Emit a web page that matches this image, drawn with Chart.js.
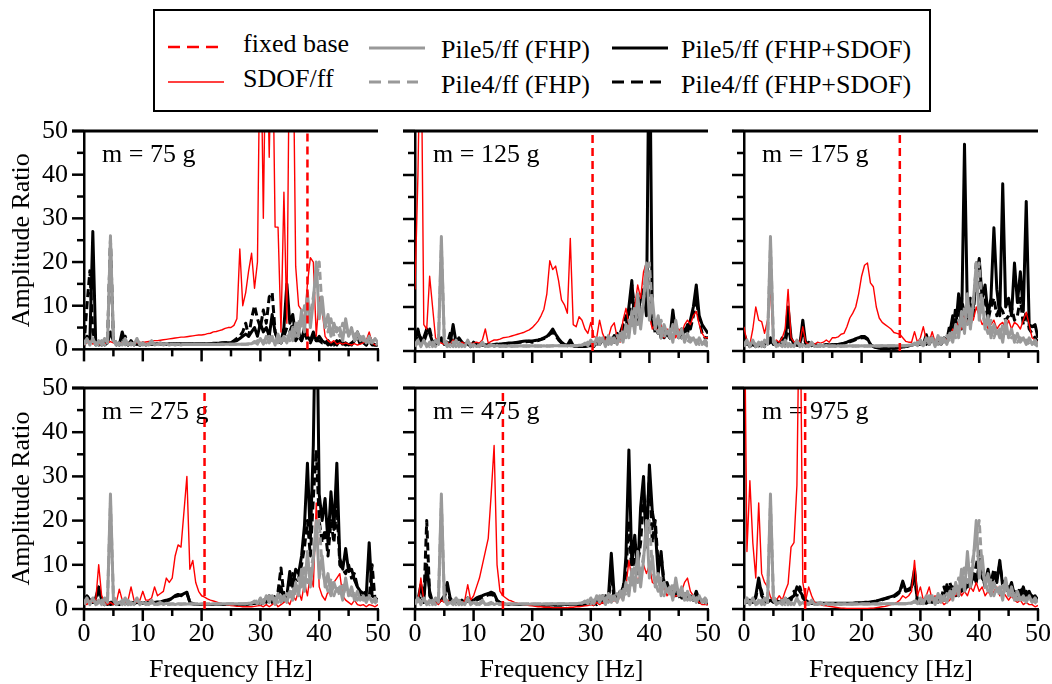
<!DOCTYPE html>
<html><head><meta charset="utf-8">
<script src="https://cdn.jsdelivr.net/npm/chart.js@4.4.1/dist/chart.umd.min.js"></script>
<style>
html,body{margin:0;padding:0;background:#fff;overflow:hidden;width:1052px;height:684px;position:relative;}
canvas{position:absolute;}
#legend{position:absolute;left:0;top:0;}
</style></head><body>
<svg id="legend" width="1052" height="118" font-family="Liberation Serif, Times New Roman, serif" font-size="26" fill="#000">
<rect x="154" y="10" width="776" height="101" fill="none" stroke="#000" stroke-width="2"/>
<line x1="168" y1="47" x2="218" y2="47" stroke="#f00" stroke-width="2.5" stroke-dasharray="12 7"/>
<text x="243" y="52">fixed base</text>
<line x1="168" y1="82" x2="224" y2="82" stroke="#f00" stroke-width="1.5"/>
<text x="243" y="87">SDOF/ff</text>
<line x1="369" y1="48" x2="425" y2="48" stroke="#999" stroke-width="3"/>
<text x="441" y="58">Pile5/ff (FHP)</text>
<line x1="369" y1="82" x2="418" y2="82" stroke="#999" stroke-width="3" stroke-dasharray="12 7"/>
<text x="441" y="93">Pile4/ff (FHP)</text>
<line x1="612" y1="48" x2="668" y2="48" stroke="#000" stroke-width="3"/>
<text x="681" y="58">Pile5/ff (FHP+SDOF)</text>
<line x1="612" y1="82" x2="661" y2="82" stroke="#000" stroke-width="3" stroke-dasharray="12 7"/>
<text x="681" y="93">Pile4/ff (FHP+SDOF)</text>
</svg>
<script>
// ---------- DATA ----------
const FREQ = [0,0.5,1,1.5,2,2.5,3,3.5,4,4.5,5,5.5,6,6.5,7,7.5,8,8.5,9,9.5,
10,10.5,11,11.5,12,12.5,13,13.5,14,14.5,15,15.5,16,16.5,17,17.5,18,18.5,19,19.5,
20,20.5,21,21.5,22,22.5,23,23.5,24,24.5,25,25.5,26,26.5,27,27.5,28,28.5,29,29.5,
30,30.5,31,31.5,32,32.5,33,33.5,34,34.5,35,35.5,36,36.5,37,37.5,38,38.5,39,39.5,
40,40.5,41,41.5,42,42.5,43,43.5,44,44.5,45,45.5,46,46.5,47,47.5,48,48.5,49,49.5,50];

const X_TICKS = [0,10,20,30,40,50];
const Y_TICKS = [0,10,20,30,40,50];
const MASS_LABELS = ['m = 75 g','m = 125 g','m = 175 g','m = 275 g','m = 475 g','m = 975 g'];
const FIXED_BASE = [38, 30.3, 26.5, 20.5, 15, 10.4];

// Pile/ff without SDOF (same in every panel)
const FHP_P5 = [1.5,2.5,1,2.5,1,2,1,2.5,1.5,26,
2,1,1.5,1,2.5,1,1.5,1,2.5,1,
1.5,1,1.2,2,1,1.2,1.5,1,1.3,1,
1.2,1,1.2,1,1.2,1.1,1.2,1.1,1.2,1.1,
1.2,1.1,1.2,1.1,1.2,1.1,1.2,1.2,1.2,1.2,
1.2,1.2,1.2,1.2,1.2,1.2,1.3,1.3,1.8,1.2,
2.5,1.2,3,1.5,3,1,3.5,1.5,3,1.5,
4,2,6,3,9,4,13,5,11,20,
7,12,5,8,3,6,4,5,2,7,
3,5,2,4,2,3,1.5,3,1.5,2.5,
1.5];
const FHP_P4 = [1,2,1.5,2,1.5,1,2,1,2,24,
3,1.5,1,2,1,2,1,1.5,2,1.5,
1,1.5,1,1.5,1.2,1,1.2,1.3,1,1.2,
1.1,1.2,1.1,1.2,1.1,1.2,1.1,1.2,1.1,1.2,
1.1,1.2,1.1,1.2,1.1,1.2,1.1,1.2,1.1,1.2,
1.2,1.2,1.2,1.2,1.2,1.2,1.2,1.4,1.5,2,
1.2,2,1.5,3,2,2.5,1.5,3,2,3.5,
2,5,3,7,5,10,6,8,12,16,
20,9,6,4,7,3,5,3,6,4,
4,3,3.5,2,3,2,2.5,1.5,2,1.5,
1];

// m = 75 g
const SDOF_75 = [1,1.5,2,1.2,1.5,1.2,1,1.3,1.5,1.8,
1.5,1.3,1.5,1.4,1.6,1.5,1.4,1.6,1.5,1.6,
1.6,1.7,1.8,1.9,2,2,2.1,2.2,2.3,2.4,
2.5,2.6,2.7,2.8,2.8,2.9,3,3.1,3.2,3.3,
3.3,3.4,3.6,3.7,4,4.1,4.3,4.5,4.8,5,
5,5.5,7,23,10,13,18,22,14,20,
80,30,80,44,80,28,28,4,36,6,
80,80,19,10,9,6,15,21,20,3,
12,9,3,2,1.5,2,1.2,1.5,1.2,1.5,
1.2,1,1.3,1,1.2,1.5,2,4,1.5,1,
1.2];
const P5_75 = [1,3,2,27,1,1.5,1,2,1.5,4,
2,1.5,1,4,1.5,1,2,1,1.5,1,
1.5,1,1.2,1.5,1.2,1.3,1.4,1.3,1.2,1.3,
1.3,1.3,1.3,1.3,1.3,1.3,1.3,1.3,1.3,1.3,
1.3,1.3,1.3,1.3,1.4,1.4,1.4,1.5,1.5,1.5,
1.5,1.8,2,2.5,3,3.5,3,4,5,3,
6,4,5,3,8,4,2,1.5,5,15,
6,8,3,4,2,5,3,2,4,2,
3,2,1.5,2,1,1.5,1,2,1.2,1.5,
1,1.5,2,4,1.5,2,1,3,1.5,1,
1];
const P4_75 = [1,10,18,4,1.5,1,2,1,1.5,25,
2,1,1.5,1,3,1,1.5,1,1.2,1,
1.2,1.2,1.2,1.2,1.2,1.2,1.2,1.2,1.2,1.2,
1.2,1.2,1.2,1.2,1.2,1.2,1.2,1.2,1.2,1.2,
1.2,1.2,1.2,1.3,1.3,1.3,1.4,1.4,1.5,1.5,
1.5,2,2.5,3,4,6,3,7,10,7,
5,9,6,12,13,4,2,1.5,3,5,
4,6,2,3,2,4,2,1.5,3,2,
2,1.5,2,1,1.5,1,2,1,1.5,1,
1.5,1,2,3,1,1.5,1,2,1,1,
1];

// m = 125 g
const SDOF_125 = [14,40,80,6,5,17,10,3,2,1.8,
1.5,2,1.5,2.5,1.8,1.5,2,1.6,1.8,1.7,
1.8,2,1.8,2.5,5,1.8,2.2,2.5,2.5,2.7,
3,3.1,3.2,3.4,3.6,3.8,4,4.2,4.5,4.8,
5.3,6,6.8,8,9.5,13,20.5,18.5,19.3,16,
11.6,10.5,8.6,25.6,6,5.5,7.8,7,5,4,
6.5,3.3,3,7,4,2.5,3,5.5,6.4,3,
2,7,9.7,6,8,10,15,12,18,20,
8,5,6,4,6,3,5,4,6,3,
5,4,6,7,6,8,9,6,4,3,
3];
const P5_125 = [2,5,2,3,5,4,2,1.5,2,3,
1.5,2,1.5,6,2,3,2,1.5,2,1,
2,1.5,1.2,1.5,1.3,1.5,1.4,1.5,1.5,1.6,
1.6,1.7,1.8,1.8,1.9,2,2.1,2.2,2.3,2.3,
2.3,2.4,2.5,2.7,3,3.3,4,5,3.8,2.8,
2,1.5,1.3,2.5,1.2,1,1,1,1,1.2,
1.5,1,2,1.5,2.5,2,3,2,3.5,3,
4,6,5,10,16,6,8,12,14,8,
80,6,5,4,5,3,4,3,9.3,4,
4,3,5,4,7,10,15,8,6,5,
4];
const P4_125 = [1.5,4,3,2,4,5,2,2,1.5,2,
2,1.5,4,2,2.5,1.5,2,1,1.5,1.2,
1.5,1.3,1.4,1.3,1.4,1.5,1.4,1.5,1.6,1.6,
1.6,1.7,1.7,1.8,1.8,1.9,2,2,2.1,2.2,
2,2.2,2.4,2.6,2.8,3.2,3.8,4.2,3.5,2.5,
1.8,1.4,1.2,2,1.1,1,1,1,1.1,1.2,
1.2,2,1.5,2.5,2,3,2.5,3,2,4,
3,5,8,6,15,9,7,12,10,20,
12,8,4,6,3,5,4,3,6,5,
3,5,4,6,5,8,12,7,4,3,
3];

// m = 175 g
const SDOF_175 = [5.5,2,1.5,5,10,7,6.7,4,7,14,
2,2.5,2,3,5,14,3,2,2.5,2,
5.5,2,1.5,2,1.5,2,1.8,2,2.5,2,
3,3,3.2,3.8,4,5.5,7.5,8.6,10,13,
17,19.5,20,15.5,14.6,10,7.5,6.5,6,5.5,
5,4.2,4,3.8,3,2.2,2,2,4.4,2,
3,5.5,2.5,2,4.4,2,2.5,2,3,2.5,
3,5,4,7,5,8,6,9,7,10,
8,6,7,5,6,7,5,6,6.5,5,
7,5,6.5,6,5,7,8.8,6,3,2.5,
2];
const P5_175 = [4,2,1,1.5,1,1.5,1.2,1.5,2,3,
1.5,2,1.5,3,2,10,3,1.5,2,1.3,
7,1.5,2,1.2,1.5,1.3,1.2,1.3,1.5,1.3,
1.4,1.5,1.5,1.6,1.8,2,2.3,2.5,2.8,3,
3.3,3.3,2.8,1.5,1,0.8,0.6,0.5,0.5,0.5,
0.6,0.6,0.7,0.8,0.9,1,1.2,1.3,1.5,1.5,
2,1.5,3.7,1.5,3,1.5,2,1.5,2.5,2,
4,8,5,13,5,47,8,6,10,16,
21,12,15,8,12,28,14,8,38,10,
12,8,20,11,18,9,34,6,5.5,6,
3];
const P4_175 = [3,1.5,1,2,1,1.2,1.5,1,1.5,2,
2,1.5,1.5,2,1.5,6,2,1.5,1.3,1.2,
5,1.5,1.5,1.2,1.3,1.2,1.2,1.3,1.4,1.3,
1.4,1.4,1.5,1.6,1.7,1.9,2.1,2.3,2.6,2.8,
3,3,2.6,1.5,1,0.8,0.6,0.5,0.5,0.5,
0.6,0.6,0.7,0.8,0.9,1,1.2,1.3,1.5,1.5,
1.5,2,1.5,2.5,2,1.5,2.5,2,3,2.5,
6,4,10,6,12,8,9,12,8,20,
15,10,12,7,10,12,8,10,9,7,
8,10,7,8,12,6,9,5,4,3,
2];

// m = 275 g
const SDOF_275 = [1.5,1,2,1.5,2,10,3,1.5,1,1.5,
1,1.5,4.5,2,1.5,2,5,2,1.5,2,
4,2,2,2.5,5,3,3.5,4,7,6,
7,12,14.5,14,22,30,9,11,6,4,
3,2.7,2.3,2,1.8,1.6,1.4,1.2,1,0.9,
0.8,0.7,0.6,0.6,0.5,0.5,0.5,0.5,0.6,0.7,
0.8,0.5,1,0.5,1,1.5,0.5,1,1.5,2,
1,3,2,4,2,6,3,8,5,24,
5,3,2,4,3,6,7,8,3,2,
1.5,1,2,1,0.8,1,0.5,1,0.8,0.5,
1];
const P5_275 = [2,3,2,1.5,2.5,5,2,1.5,1,1.5,
1.5,1,1.5,1.2,1.5,1.2,1.5,1.2,1.5,1.3,
1.4,1.3,1.5,1.4,1.5,1.5,1.6,1.8,2,2,
2.5,3,3.3,3,3.5,3.8,1.5,1.2,1,1,
1,1,1,1,1,1,1,1,1,1,
1,1,1,1,1,1.1,1.1,1.2,1.3,1.5,
1,1.5,2,3,1.5,2,3,5,2,3,
8.5,5,9,8,12,19,33,16,37,80,
26,20,25,15,26.5,18,33,11.5,9,13.7,
8.5,9,6.6,5,4,3.5,3,15,3,2.5,
2];
const P4_275 = [1.5,2.5,3,1.5,2,4,2.5,1,1.5,1,
1.2,1.5,1,1.5,1.2,1,1.3,1.5,1.2,1.4,
1.3,1.5,1.4,1.5,1.4,1.6,1.5,1.7,1.9,2.2,
2.3,2.8,3,3.2,3.3,3.5,1.6,1.2,1,1,
1,1,1,1,1,1,1,1,1,1,
1,1,1,1,1,1.1,1.1,1.2,1.3,1.4,
1.2,2,1.5,2.5,2,3,4,9.3,3,2,
5,8,6,7,10,14,20,12,25,36,
20,15,18,12,20,15,24,10,9,8,
10,7,8,5,3,4,3,2.5,10,2,
2];

// m = 475 g
const SDOF_475 = [2,1.5,7,2,1.5,2,1,1.5,1,2,
1.5,2,1.5,1,2,1.5,1,2,5.5,2,
3,5,7,10,13,16,26,37,10,4,
3,2.5,2,1.8,1.5,1.3,1.2,1,0.9,0.8,
0.7,0.6,0.5,0.5,0.4,0.4,0.4,0.3,0.3,0.3,
0.3,0.3,0.3,0.4,0.4,0.5,0.5,0.6,0.7,0.8,
1,0.8,1.5,1,1.5,1,2,1.5,2,1.5,
3,2,5,11,7,9,6,8,10,8,
10,6,5.6,7,4,5,3,4,2.5,3,
3,4,6,7,4,3,2,1.5,1,1,
1];
const P5_475 = [2,2,5.5,2,10,4,1.5,2,1.5,2,
3,6,2.5,1.5,2,1.5,2,1.5,2.5,2,
2,2.5,2.8,3,3.3,3.5,3.8,3.5,2,1.5,
1.2,1.1,1,1,1,1,1,1,1,1,
1,1,0.9,0.9,0.9,0.9,0.9,0.9,0.9,0.9,
0.9,1,1,1,1,1,1,1,1,1,
1.5,1,2,1.5,3,2,2.5,12.6,3,2,
4,3,12,36,10,16.7,8,23,30,14,
32.6,22,18,8,13,5,6,3.9,4,3,
4,2.5,3.5,2.5,3,2,4,2,2,1.5,
1.5];
const P4_475 = [1.5,2,3,1.5,20,3,1.5,2,1.5,2,
2.5,5,2,1.5,2,1.2,1.5,1.2,2,1.5,
1.8,2,2.3,2.6,2.9,3.2,3.3,3,1.8,1.4,
1.1,1,1,1,1,1,1,1,1,1,
1,1,1,0.9,0.9,0.9,0.9,0.9,0.9,0.9,
0.9,0.9,1,1,1,1,1,1,1,1,
1.2,1.5,1,2,1.5,3,2,8,2,3,
3,5,8,20,8,12,10,15,25,18,
30,15,20,10,12,6,5,4,3,4,
3,2,3,2,2.5,2,3,1.5,2,1.5,
1];

// m = 975 g
const SDOF_975 = [80,13,29,15,7,24,8,6,5,2.7,
2,2,3,2,4,5.7,14,15,28,80,
6,2,5,3,1.5,1.2,1,0.8,0.7,0.6,
0.5,0.4,0.3,0.2,0.2,0.1,0.1,0.1,0.1,0.1,
0.1,0.1,0.1,0.2,0.2,0.3,0.4,0.5,0.6,0.8,
1,1.2,1.5,2,3,2.5,3,4,11,3,
5,2,3,5,2,3,1.5,2,1,1.5,
2,4,3,5,3,4,3,5,4,6,
4,5,3,4,3,4,5,3,4,3,
2,3,2,1.5,2,1,1.5,1,1,0.5,
0.8];
const P5_975 = [2,1.5,2,1.5,3,7,3,2,1.5,2,
1.5,2,1.5,2,1.5,2,2.5,3,5,4,
3,2,1.5,1.3,1.3,1.3,1.3,1.3,1.3,1.3,
1.3,1.3,1.3,1.3,1.3,1.3,1.3,1.3,1.4,1.4,
1.4,1.5,1.5,1.6,1.7,1.8,2,2.2,2.4,2.6,
2.8,3,3.5,4,6.3,4.2,4.5,5,9,1.5,
1.3,1.5,1.3,1.8,1.5,2,1.5,2.5,2,5.5,
3,5,4,3,5,4,6,5,8,6,
10,7,6,9,5,8,6,11,5,6,
4,6,3,4,3,5,2.5,4,2.5,3,
2];
const P4_975 = [1.5,2,1.5,2,2.5,6,4,1.5,2,1.5,
2,1.5,2,1.5,2,3,2,4,3,5,
2.5,1.8,1.5,1.3,1.3,1.2,1.2,1.2,1.2,1.2,
1.2,1.2,1.2,1.2,1.2,1.2,1.2,1.2,1.3,1.3,
1.3,1.4,1.4,1.5,1.6,1.7,1.9,2.1,2.3,2.5,
2.6,2.8,3.2,3.8,5.8,4,4.2,4.5,8,1.5,
1.5,1.3,2,1.5,2,1.5,2.5,2,5,3,
6,4,3,5,4,6,5,7,6,10,
13,8,5,7,6,9,7,10,6,4,
5,3,4,3,5,3,4,2,3,2,
2.5];

const SDOF_SERIES = [SDOF_75, SDOF_125, SDOF_175, SDOF_275, SDOF_475, SDOF_975];
const P5_SERIES = [P5_75, P5_125, P5_175, P5_275, P5_475, P5_975];
const P4_SERIES = [P4_75, P4_125, P4_175, P4_275, P4_475, P4_975];

// ---------- LAYOUT / STYLE ----------
const FONT = '"Liberation Serif", "Times New Roman", serif';
const FSIZE = 26;
const COL_L = [84, 415, 744], COL_R = [378, 708, 1038];
const ROW_T = [131, 388], ROW_B = [351, 609];
const RED = '#ff0000', GRAY = '#9a9a9a', BLACK = '#000000';

const panelDeco = {
  id: 'panelDeco',
  beforeDatasetsDraw(chart, args, opts) {
    const ctx = chart.ctx, a = chart.chartArea;
    ctx.save();
    ctx.fillStyle = '#000';
    ctx.font = FSIZE + 'px ' + FONT;
    ctx.textBaseline = 'alphabetic';
    ctx.textAlign = 'left';
    ctx.fillText(opts.label, a.left + 18, a.top + 31);
    ctx.restore();
  },
  afterDraw(chart) {
    const ctx = chart.ctx, a = chart.chartArea;
    const xs = chart.scales.x, ys = chart.scales.y;
    ctx.save();
    ctx.strokeStyle = '#000';
    ctx.lineWidth = 2.5;
    ctx.lineCap = 'butt';
    for (let v = xs.min; v <= xs.max; v += 5) {
      const len = (v % 10 === 0) ? 12 : 7;
      const px = xs.getPixelForValue(v);
      ctx.beginPath(); ctx.moveTo(px, a.bottom); ctx.lineTo(px, a.bottom + len); ctx.stroke();
    }
    for (let v = ys.min; v <= ys.max; v += 5) {
      const len = (v % 10 === 0) ? 12 : 7;
      const py = ys.getPixelForValue(v);
      ctx.beginPath(); ctx.moveTo(a.left, py); ctx.lineTo(a.left - len, py); ctx.stroke();
    }
    const top = ys.getPixelForValue(ys.max);
    ctx.lineWidth = 3;
    ctx.beginPath(); ctx.moveTo(a.left - 12, top); ctx.lineTo(xs.getPixelForValue(xs.max), top); ctx.stroke();
    ctx.restore();
  }
};

function pts(arr) { return FREQ.map((f, k) => ({x: f, y: arr[k]})); }

function makePanel(i) {
  const c = i % 3, r = Math.floor(i / 3);
  const padT = 36, padR = 28, yW = 84, xH = (r === 0) ? 30 : 77;
  const aw = COL_R[c] - COL_L[c], ah = ROW_B[r] - ROW_T[r];
  const cv = document.createElement('canvas');
  cv.width = yW + aw + padR;
  cv.height = padT + ah + xH;
  cv.style.left = (COL_L[c] - yW) + 'px';
  cv.style.top = (ROW_T[r] - padT) + 'px';
  cv.style.width = cv.width + 'px';
  cv.style.height = cv.height + 'px';
  document.body.appendChild(cv);
  const fb = FIXED_BASE[i];
  new Chart(cv, {
    type: 'line',
    data: { datasets: [
      { label: 'Pile4/ff (FHP+SDOF)', data: pts(P4_SERIES[i]), borderColor: BLACK, borderWidth: 3, borderDash: [8, 4], order: 6 },
      { label: 'Pile5/ff (FHP+SDOF)', data: pts(P5_SERIES[i]), borderColor: BLACK, borderWidth: 3, order: 5 },
      { label: 'SDOF/ff', data: pts(SDOF_SERIES[i]), borderColor: RED, borderWidth: 1.4, order: 4 },
      { label: 'Pile4/ff (FHP)', data: pts(FHP_P4), borderColor: GRAY, borderWidth: 3, borderDash: [8, 4], order: 3 },
      { label: 'Pile5/ff (FHP)', data: pts(FHP_P5), borderColor: GRAY, borderWidth: 3, order: 2 },
      { label: 'fixed base', data: [{x: fb, y: 0}, {x: fb, y: 50}], borderColor: RED, borderWidth: 2.5, borderDash: [8, 5], order: 1 }
    ]},
    options: {
      responsive: false, animation: false, events: [],
      layout: { padding: { top: padT, right: padR, left: 0, bottom: 0 } },
      elements: { point: { radius: 0 }, line: { tension: 0, borderJoinStyle: 'round', fill: false } },
      plugins: { legend: { display: false }, tooltip: { enabled: false }, panelDeco: { label: MASS_LABELS[i] } },
      scales: {
        x: {
          type: 'linear', min: X_TICKS[0], max: X_TICKS[X_TICKS.length - 1],
          afterFit(s) { s.height = xH; },
          afterBuildTicks(s) { s.ticks = X_TICKS.map(v => ({value: v})); },
          grid: { display: false, drawTicks: false },
          border: { display: true, color: '#000', width: 2.5 },
          ticks: { display: r === 1, padding: 10, color: '#000', font: { family: FONT, size: FSIZE }, maxRotation: 0, autoSkip: false },
          title: { display: r === 1, text: 'Frequency [Hz]', color: '#000', font: { family: FONT, size: FSIZE }, padding: { top: 0, bottom: 0 } }
        },
        y: {
          type: 'linear', min: Y_TICKS[0], max: Y_TICKS[Y_TICKS.length - 1],
          afterFit(s) { s.width = yW; },
          afterBuildTicks(s) { s.ticks = Y_TICKS.map(v => ({value: v})); },
          grid: { display: false, drawTicks: false },
          border: { display: true, color: '#000', width: 2.5 },
          ticks: { display: c === 0, padding: 16, color: '#000', font: { family: FONT, size: FSIZE }, autoSkip: false },
          title: { display: c === 0, text: 'Amplitude Ratio', color: '#000', font: { family: FONT, size: FSIZE }, padding: { top: 7, bottom: 0 } }
        }
      }
    },
    plugins: [panelDeco]
  });
}
for (let i = 0; i < 6; i++) makePanel(i);
</script>
</body></html>
